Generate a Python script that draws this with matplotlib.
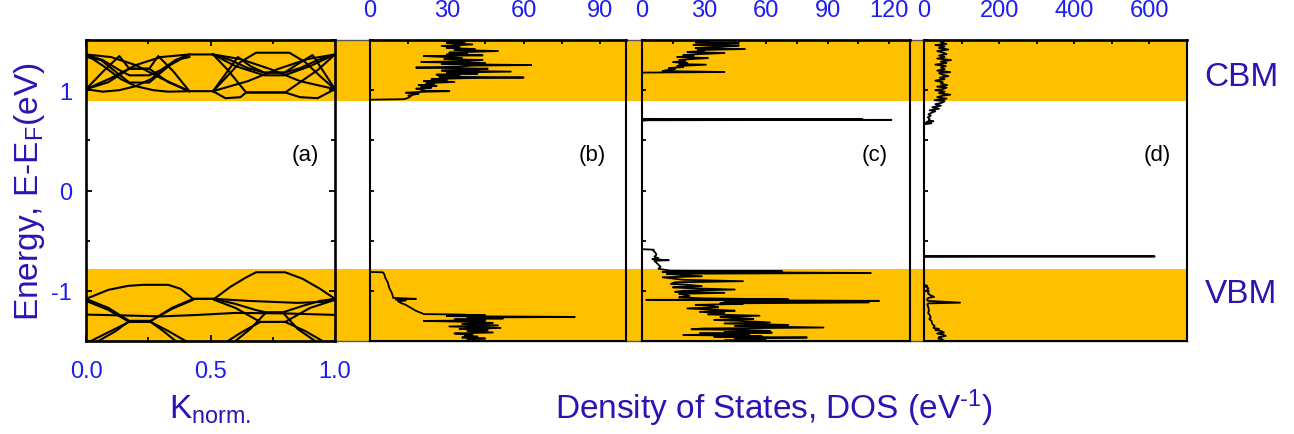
import matplotlib
matplotlib.use("Agg")
import matplotlib.pyplot as plt
from matplotlib.ticker import MultipleLocator, FixedLocator, FixedFormatter

OUT_FILE = "out.png"
W, H = 1294, 435

# colours
ORANGE = "#ffc000"
TICK_BLUE = "#1c1cf5"
LABEL_BLUE = "#2a14b4"

# energy window / band edges (eV)
E_MIN, E_MAX = -1.5, 1.5
CBM_EDGE = 0.89
VBM_EDGE = -0.78

# (a) band structure, each band = list of (k, E) vertices
CB_BANDS = [
    [(0.0, 1.01), (0.07, 1.19), (0.134, 1.34), (0.174, 1.214), (0.254, 1.214), (0.33, 1.08), (0.415, 0.99), (0.51, 0.99)],
    [(0.0, 1.01), (0.09, 1.08), (0.174, 1.214), (0.254, 1.214), (0.29, 1.34), (0.35, 1.19), (0.415, 0.99)],
    [(0.0, 1.356), (0.067, 1.30), (0.134, 1.20), (0.174, 1.148), (0.254, 1.148), (0.30, 1.20), (0.36, 1.30), (0.415, 1.356), (0.51, 1.356)],
    [(0.0, 1.356), (0.07, 1.24), (0.14, 1.11), (0.2, 1.04), (0.27, 1.0), (0.33, 0.985), (0.415, 0.99)],
    [(0.0, 1.01), (0.067, 0.985), (0.134, 1.0), (0.2, 1.04), (0.26, 1.11), (0.33, 1.24), (0.415, 1.356)],
    [(0.0, 1.33), (0.06, 1.30), (0.174, 1.076), (0.254, 1.076), (0.36, 1.30), (0.415, 1.33)],
    [(0.0, 1.356), (0.10, 1.33), (0.20, 1.25), (0.30, 1.12), (0.415, 0.99)],
    [(0.0, 1.01), (0.10, 1.12), (0.20, 1.25), (0.30, 1.33), (0.415, 1.356)],
    [(0.51, 0.99), (0.56, 1.12), (0.62, 1.28), (0.683, 1.373), (0.817, 1.373), (0.88, 1.28), (0.94, 1.14), (1.0, 1.01)],
    [(0.51, 1.356), (0.58, 1.30), (0.65, 1.22), (0.716, 1.175), (0.797, 1.175), (0.86, 1.22), (0.93, 1.30), (1.0, 1.356)],
    [(0.51, 1.356), (0.60, 1.24), (0.716, 1.148), (0.797, 1.148), (0.90, 1.24), (1.0, 1.356)],
    [(0.51, 0.99), (0.56, 1.16), (0.61, 1.33), (0.66, 1.24), (0.716, 1.175), (0.797, 1.175), (0.85, 1.26), (0.91, 1.35), (0.95, 1.20), (1.0, 1.01)],
    [(0.51, 0.99), (0.56, 0.92), (0.62, 0.93), (0.643, 0.977), (0.80, 0.977), (0.86, 0.93), (0.93, 0.92), (1.0, 1.01)],
    [(0.51, 1.356), (0.57, 1.20), (0.643, 0.977), (0.80, 0.977), (0.93, 1.20), (1.0, 1.356)],
    [(0.51, 1.356), (0.62, 1.31), (0.74, 1.21), (0.86, 1.09), (1.0, 1.01)],
    [(0.51, 0.99), (0.65, 1.09), (0.77, 1.21), (0.89, 1.31), (1.0, 1.356)],
]
VB_BANDS = [
    [(0.0, -1.08), (0.09, -0.99), (0.17, -0.95), (0.23, -0.94), (0.33, -0.94), (0.38, -0.98), (0.43, -1.08), (0.515, -1.08),
     (0.58, -0.96), (0.64, -0.87), (0.683, -0.815), (0.80, -0.815), (0.87, -0.88), (0.94, -0.98), (1.0, -1.08)],
    [(0.0, -1.08), (0.09, -1.17), (0.174, -1.30), (0.26, -1.30), (0.345, -1.17), (0.43, -1.08), (0.515, -1.08),
     (0.60, -1.13), (0.68, -1.19), (0.723, -1.215), (0.79, -1.215), (0.87, -1.15), (0.94, -1.10), (1.0, -1.08)],
    [(0.0, -1.237), (0.15, -1.245), (0.30, -1.255), (0.45, -1.24), (0.60, -1.22), (0.80, -1.225), (1.0, -1.24)],
    [(0.0, -1.10), (0.09, -1.19), (0.174, -1.31), (0.26, -1.31), (0.31, -1.40), (0.36, -1.50)],
    [(0.02, -1.50), (0.10, -1.40), (0.174, -1.31), (0.26, -1.31), (0.33, -1.40), (0.40, -1.50)],
    [(0.05, -1.50), (0.12, -1.40), (0.174, -1.30), (0.26, -1.30), (0.345, -1.18), (0.43, -1.09)],
    [(0.515, -1.09), (0.60, -1.17), (0.70, -1.31), (0.80, -1.31), (0.88, -1.40), (0.95, -1.50)],
    [(0.57, -1.50), (0.62, -1.42), (0.70, -1.31), (0.80, -1.31), (0.90, -1.17), (1.0, -1.09)],
    [(0.515, -1.08), (0.65, -1.10), (0.85, -1.12), (0.95, -1.11), (1.0, -1.08)],
    [(0.60, -1.50), (0.66, -1.38), (0.723, -1.215), (0.79, -1.215), (0.85, -1.38), (0.92, -1.50)],
]

# (b) DOS
B_CB_E = [0.80, 0.905, 0.91, 0.915, 0.925, 0.94, 0.945, 0.955, 0.965, 0.975, 0.985, 0.99, 0.995, 1.005, 1.015,
          1.025, 1.035, 1.043, 1.05, 1.06, 1.07, 1.082, 1.09, 1.10, 1.11, 1.12, 1.126, 1.135, 1.145, 1.155, 1.165,
          1.175, 1.185, 1.195, 1.205, 1.214, 1.225, 1.235, 1.245, 1.25, 1.26, 1.27, 1.28, 1.29, 1.30, 1.31, 1.32,
          1.33, 1.34, 1.347, 1.355, 1.365, 1.375, 1.39, 1.40, 1.41, 1.42, 1.43, 1.44, 1.456, 1.47, 1.48, 1.49, 1.50]
B_CB_DOS = [0, 0, 13, 14, 15, 16, 15, 17, 19, 14, 22, 31, 20, 21, 18,
            24, 20, 26, 19, 25, 22, 33, 21, 30, 24, 38, 60, 27, 35, 26, 42,
            30, 55, 28, 40, 46, 18, 35, 40, 63, 28, 45, 20, 38, 44, 29, 36,
            30, 21, 44, 30, 38, 31, 50, 33, 41, 30, 35, 28, 40, 30, 37, 29, 33]
B_VB_E = [-0.70, -0.812, -0.815, -0.83, -0.87, -0.92, -0.97, -1.02, -1.06, -1.07, -1.08, -1.085, -1.095, -1.105,
          -1.12, -1.14, -1.17, -1.20, -1.22, -1.232, -1.236, -1.245, -1.252, -1.26, -1.266, -1.275, -1.285, -1.295,
          -1.30, -1.31, -1.32, -1.33, -1.345, -1.355, -1.37, -1.38, -1.39, -1.40, -1.415, -1.425, -1.435, -1.445,
          -1.455, -1.465, -1.475, -1.485, -1.50]
B_VB_DOS = [0, 0, 5, 5.5, 6, 7, 7.5, 8.5, 9, 9, 18, 10, 14, 11,
            12, 14, 16, 18, 20, 21, 35, 45, 30, 80, 38, 52, 33, 45,
            21, 40, 48, 36, 50, 31, 51, 35, 46, 38, 48, 33, 40, 37,
            42, 36, 45, 38, 40]

# (c) DOS (gap state near 0.7 eV)
C_CB_E = [0.40, 0.695, 0.700, 0.704, 0.707, 0.710, 0.714, 1.175, 1.181, 1.19, 1.20, 1.21, 1.22, 1.23, 1.24,
          1.254, 1.26, 1.27, 1.28, 1.29, 1.30, 1.31, 1.32, 1.33, 1.34, 1.35, 1.36, 1.37, 1.38, 1.39, 1.40,
          1.41, 1.42, 1.43, 1.445, 1.45, 1.46, 1.47, 1.475, 1.48, 1.49, 1.50]
C_CB_DOS = [0, 0, 3, 121, 4, 107, 0, 0, 40, 10, 12, 16, 13, 20, 17,
            31, 18, 22, 15, 21, 18, 24, 32, 17, 25, 20, 28, 40, 22, 30, 27,
            50, 26, 35, 47, 25, 38, 47, 26, 32, 27, 30]
C_VB_E = [-0.50, -0.585, -0.59, -0.60, -0.62, -0.64, -0.66, -0.675, -0.685, -0.695, -0.70, -0.72, -0.76, -0.78,
          -0.80, -0.805, -0.812, -0.822, -0.83, -0.84, -0.855, -0.865, -0.88, -0.89, -0.904, -0.915, -0.93,
          -0.94, -0.953, -0.965, -0.975, -0.987, -1.0, -1.01, -1.02, -1.03, -1.045, -1.053, -1.065, -1.075,
          -1.086, -1.09, -1.10, -1.105, -1.116, -1.125, -1.13, -1.14, -1.15, -1.165, -1.175, -1.19, -1.198,
          -1.21, -1.22, -1.235, -1.248, -1.26, -1.27, -1.28, -1.29, -1.30, -1.315, -1.325, -1.34, -1.35,
          -1.366, -1.375, -1.383, -1.39, -1.40, -1.41, -1.416, -1.425, -1.432, -1.44, -1.45, -1.458, -1.465,
          -1.475, -1.485, -1.495, -1.50]
C_VB_DOS = [0, 0, 5.7, 5.5, 6.5, 7, 6, 8, 5, 13, 6, 7, 9, 8,
            14, 68, 10, 111, 12, 18, 29, 10, 16, 20, 49, 16, 14,
            22, 29, 15, 24, 45, 20, 16, 40, 18, 22, 23, 18, 30,
            71, 2, 115, 40, 110, 38, 49, 26, 34, 37, 22, 36, 45,
            28, 40, 32, 57, 38, 46, 54, 35, 48, 62, 40, 71, 45,
            88, 30, 24, 50, 62, 40, 63, 28, 52, 20, 58, 35, 80,
            45, 60, 40, 50]

# (d) DOS (deep gap state near -0.66 eV)
D_CB_E = [0.40, 0.66, 0.67, 0.675, 0.685, 0.69, 0.70, 0.715, 0.73, 0.745, 0.76, 0.775, 0.79, 0.80, 0.815,
          0.83, 0.845, 0.86, 0.875, 0.89, 0.90, 0.915, 0.93, 0.945, 0.955, 0.97, 0.985, 1.0, 1.01, 1.025,
          1.035, 1.05, 1.065, 1.08, 1.095, 1.11, 1.125, 1.14, 1.155, 1.17, 1.18, 1.195, 1.21, 1.225, 1.24,
          1.255, 1.27, 1.285, 1.30, 1.315, 1.33, 1.345, 1.36, 1.375, 1.39, 1.405, 1.42, 1.435, 1.45, 1.46,
          1.475, 1.49, 1.50]
D_CB_DOS = [0, 0, 20, 5, 8, 25, 12, 15, 10, 18, 12, 20, 30, 15, 40,
            22, 45, 30, 48, 55, 28, 60, 35, 50, 70, 40, 55, 30, 50, 60,
            35, 62, 45, 50, 30, 55, 42, 65, 48, 40, 70, 35, 55, 45, 58,
            30, 60, 45, 72, 35, 55, 40, 60, 50, 35, 65, 40, 55, 30, 60,
            45, 55, 40]
D_VB_E = [-0.55, -0.652, -0.657, -0.662, -0.94, -0.95, -0.96, -0.975, -0.99, -1.003, -1.02, -1.04, -1.06, -1.07,
          -1.085, -1.10, -1.118, -1.125, -1.134, -1.15, -1.17, -1.20, -1.22, -1.24, -1.267, -1.28, -1.30, -1.33,
          -1.35, -1.37, -1.38, -1.39, -1.40, -1.415, -1.425, -1.435, -1.45, -1.46, -1.465, -1.475, -1.485, -1.50]
D_VB_DOS = [0, 0, 614, 0, 0, 9, 5, 12, 8, 13, 10, 15, 27, 12,
            8, 10, 96, 12, 9, 10, 12, 13, 11, 15, 18, 14, 20, 22,
            28, 25, 40, 30, 45, 53, 35, 50, 58, 40, 45, 38, 50, 42]

# panel layout in pixels (left, right) and DOS axis settings
PANEL_TOP, PANEL_BOTTOM = 41, 342
A_X = (86, 335)
DOS_PANELS = [
    {"x": (370, 626), "xmax": 100, "ticks": [0, 30, 60, 90], "minor": 15, "label": "(b)", "lx": 0.867,
     "series": [(B_CB_E, B_CB_DOS), (B_VB_E, B_VB_DOS)]},
    {"x": (642, 910), "xmax": 130, "ticks": [0, 30, 60, 90, 120], "minor": 15, "label": "(c)", "lx": 0.869,
     "series": [(C_CB_E, C_CB_DOS), (C_VB_E, C_VB_DOS)]},
    {"x": (924, 1187), "xmax": 700, "ticks": [0, 200, 400, 600], "minor": 100, "label": "(d)", "lx": 0.886,
     "series": [(D_CB_E, D_CB_DOS), (D_VB_E, D_VB_DOS)]},
]

TICK_FONT = ["Liberation Sans Narrow", "Liberation Sans", "DejaVu Sans"]


def px_rect(x0, x1, y0=PANEL_TOP, y1=PANEL_BOTTOM):
    return [x0 / W, (H - y1) / H, (x1 - x0) / W, (y1 - y0) / H]


def style_frame(ax, lw):
    for sp in ax.spines.values():
        sp.set_linewidth(lw)
        sp.set_color("black")
    ax.set_facecolor("none")


def draw():
    plt.rcParams["font.family"] = ["Liberation Sans", "DejaVu Sans"]
    plt.rcParams["mathtext.default"] = "regular"
    plt.rcParams["axes.unicode_minus"] = False

    fig = plt.figure(figsize=(W / 100, H / 100), dpi=100)

    # orange CB/VB regions behind every panel
    bg = fig.add_axes(px_rect(A_X[0], DOS_PANELS[-1]["x"][1]))
    bg.set_xlim(0, 1)
    bg.set_ylim(E_MIN, E_MAX)
    bg.axhspan(CBM_EDGE, E_MAX, color=ORANGE, lw=0)
    bg.axhspan(E_MIN, VBM_EDGE, color=ORANGE, lw=0)
    bg.set_xticks([])
    bg.set_yticks([])
    bg.spines["left"].set_visible(False)
    bg.spines["right"].set_visible(False)
    for s in ("top", "bottom"):
        bg.spines[s].set_linewidth(1.0)
        bg.spines[s].set_color("#555555")

    # (a) band structure
    ax_a = fig.add_axes(px_rect(*A_X))
    style_frame(ax_a, 1.9)
    for band in CB_BANDS + VB_BANDS:
        ks = [p[0] for p in band]
        es = [p[1] for p in band]
        ax_a.plot(ks, es, color="black", lw=1.5, solid_joinstyle="round")
    ax_a.set_xlim(0, 1)
    ax_a.set_ylim(E_MIN, E_MAX)
    ax_a.xaxis.set_major_locator(FixedLocator([0, 0.5, 1.0]))
    ax_a.xaxis.set_major_formatter(FixedFormatter(["0.0", "0.5", "1.0"]))
    ax_a.xaxis.set_minor_locator(MultipleLocator(0.25))
    ax_a.yaxis.set_major_locator(FixedLocator([-1, 0, 1]))
    ax_a.yaxis.set_major_formatter(FixedFormatter(["-1", "0", "1"]))
    ax_a.yaxis.set_minor_locator(MultipleLocator(0.5))
    ax_a.tick_params(which="both", direction="in", top=True, right=True, width=1.3, color="black")
    ax_a.tick_params(which="major", length=4)
    ax_a.tick_params(which="minor", length=3)
    ax_a.tick_params(axis="x", pad=14, labelsize=17, labelcolor=TICK_BLUE)
    ax_a.tick_params(axis="y", pad=10, labelsize=17, labelcolor=TICK_BLUE)
    for lab in ax_a.get_xticklabels() + ax_a.get_yticklabels():
        lab.set_family(TICK_FONT)
    ax_a.text(0.88, 0.621, "(a)", transform=ax_a.transAxes, ha="center", va="center", fontsize=16)

    # (b)-(d) densities of states
    for panel in DOS_PANELS:
        ax = fig.add_axes(px_rect(*panel["x"]))
        style_frame(ax, 1.5)
        ax.spines["top"].set_linewidth(1.9)
        for es, dos in panel["series"]:
            ax.plot(dos, es, color="black", lw=1.3)
        ax.xaxis.set_ticks_position("top")
        ax.set_xticks(panel["ticks"])
        ax.xaxis.set_minor_locator(MultipleLocator(panel["minor"]))
        ax.set_xlim(0, panel["xmax"])
        ax.set_ylim(E_MIN, E_MAX)
        ax.yaxis.set_major_locator(MultipleLocator(0.5))
        ax.yaxis.set_ticklabels([])
        ax.tick_params(which="both", direction="in", width=1.3, length=3, color="black")
        ax.tick_params(axis="x", pad=14, labelsize=17, labelcolor=TICK_BLUE)
        for lab in ax.get_xticklabels():
            lab.set_family(TICK_FONT)
        ax.text(panel["lx"], 0.621, panel["label"], transform=ax.transAxes, ha="center", va="center", fontsize=16)

    # axis titles and band edge tags
    fig.text(30 / W, 1 - 192 / H, "Energy, E-E$_F$(eV)", rotation=90, ha="center", va="center",
             fontsize=24, color=LABEL_BLUE)
    fig.text(210 / W, 1 - 410 / H, "K$_{norm.}$", ha="center", va="center", fontsize=24, color=LABEL_BLUE)
    fig.text(774 / W, 1 - 408 / H, "Density of States, DOS (eV$^{\u20101}$)", ha="center", va="center",
             fontsize=24, color=LABEL_BLUE)
    fig.text(1241 / W, 1 - 78 / H, "CBM", ha="center", va="center", fontsize=24, color=LABEL_BLUE)
    fig.text(1241 / W, 1 - 295 / H, "VBM", ha="center", va="center", fontsize=24, color=LABEL_BLUE)

    fig.savefig(OUT_FILE, dpi=100, facecolor="white")
    plt.close(fig)


if __name__ == "__main__":
    draw()
